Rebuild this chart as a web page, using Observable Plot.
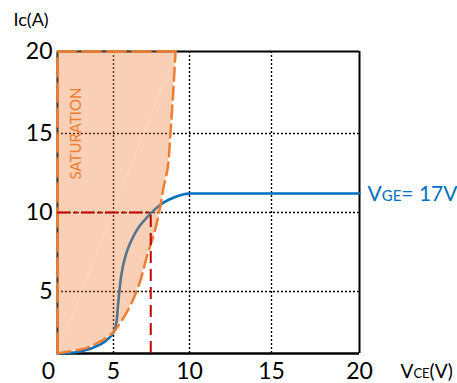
<!DOCTYPE html>
<html><head><meta charset="utf-8">
<script src="https://cdn.jsdelivr.net/npm/d3@7"></script>
<script src="https://cdn.jsdelivr.net/npm/@observablehq/plot@0.6"></script>
<style>body{margin:0;background:#fff;} svg{display:block;}</style>
</head><body><div id="chart"></div>
<script>
// ---- data ----
const xTicks = [0, 5, 10, 15, 20];
const yTicks = [5, 10, 15, 20];
const gridValues = [5, 10, 15];
// output characteristic (VGE = 17V)
const curveVce = [0, 2.05, 3.84, 4.6, 5.02, 5.2, 5.28, 5.38, 5.51, 5.68, 5.9, 6.23, 6.66, 7.22, 7.76, 8.31, 8.97, 9.63, 10.06, 11, 20];
const curveIc  = [0, 0.16, 0.74, 1.25, 1.75, 2.57, 3.66, 4.94, 6.01, 6.85, 7.59, 8.34, 9.07, 9.70, 10.23, 10.64, 10.95, 11.16, 11.2, 11.2, 11.2];
// saturation region right boundary
const satIc  = [0, 0.33, 0.98, 1.75, 2.3, 3.61, 5.38, 7.28, 8.99, 10.43, 11.68, 12.61, 15.09, 17.58, 20];
const satVce = [0, 2.05, 3.84, 5.02, 5.35, 6.0, 6.66, 7.22, 7.76, 8.09, 8.31, 8.53, 8.75, 8.93, 9.08];
// operating point
const opVce = 7.45, opIc = 10;
const xTitle = ["V", "CE", "(V)"];
const yTitle = "Ic(A)";
const seriesLabel = ["V", "GE", "= 17V"];
const regionLabel = "SATURATION";

const curve = curveVce.map((v, i) => ({vce: v, ic: curveIc[i]}));
const sat = satIc.map((c, i) => ({ic: c, vce: satVce[i]}));
const satTop = satVce[satVce.length - 1];
const satEdge = [{vce: satTop, ic: 20}, {vce: 0, ic: 20}, {vce: 0, ic: 0}];
const seam = [{vce: 0, ic: 0}, {vce: satTop, ic: 20}];

const orange = "#ed7d31", blue = "#0070c0", red = "#c00000";
const font = "Lato, 'Open Sans', sans-serif";

// the drawing's grid is not evenly spaced: piecewise position mapping
const xPiece = d3.scaleLinear().domain(xTicks).range([57, 113, 189, 271, 359]);
const yPiece = d3.scaleLinear().domain([0, 5, 10, 15, 20]).range([353, 291, 212, 133, 51]);

const svg = Plot.plot({
  width: 457, height: 383,
  margin: 0,
  style: {fontFamily: font, background: "#fff", overflow: "visible"},
  x: {transform: v => xPiece(v), domain: [0, 457], range: [0, 457], axis: null},
  y: {transform: v => yPiece(v), domain: [0, 383], range: [0, 383], axis: null},
  marks: [
    Plot.ruleX(gridValues, {y1: 0, y2: 20, stroke: "#000", strokeWidth: 1.4, strokeDasharray: "2 2"}),
    Plot.ruleY(gridValues, {x1: 0, x2: 20, stroke: "#000", strokeWidth: 1.4, strokeDasharray: "2 2"}),
    Plot.ruleX([0, 20], {y1: 0, y2: 20, stroke: "#000", strokeWidth: 2}),
    Plot.ruleY([20], {x1: 0, x2: 20, stroke: "#000", strokeWidth: 2}),
    Plot.ruleY([0], {x1: 0, x2: 20, stroke: "#000", strokeWidth: 2.5}),
    Plot.line(curve, {x: "vce", y: "ic", stroke: blue, strokeWidth: 2.6, curve: "catmull-rom"}),
    Plot.areaX(sat, {y: "ic", x1: 0, x2: "vce", fill: orange, fillOpacity: 0.36, curve: "monotone-y"}),
    Plot.line(seam, {x: "vce", y: "ic", stroke: "#fff", strokeOpacity: 0.12, strokeWidth: 1}),
    Plot.line(sat, {x: "vce", y: "ic", stroke: orange, strokeWidth: 2.5, strokeDasharray: "13 6", curve: "monotone-y"}),
    Plot.line(satEdge, {x: "vce", y: "ic", stroke: orange, strokeWidth: 2.5, strokeDasharray: "18 7"}),
    Plot.ruleY([opIc], {x1: 0, x2: opVce, stroke: red, strokeWidth: 2, strokeDasharray: "13 4 3 4"}),
    Plot.ruleX([opVce], {y1: 0, y2: opIc, stroke: red, strokeWidth: 2, strokeDasharray: "12 6"}),
    // tick labels
    Plot.text(xTicks.slice(0, 1), {x: d => d, y: 0, text: d => String(d), fontSize: 23, fill: "#000", dx: -9, dy: 18.5}),
    Plot.text(xTicks.slice(1), {x: d => d, y: 0, text: d => String(d), fontSize: 23, fill: "#000", dy: 18.5}),
    Plot.text(yTicks, {x: 0, y: d => d, text: d => String(d), fontSize: 23, fill: "#000", textAnchor: "end", dx: -5, dy: 0}),
    // axis titles
    Plot.text([yTitle], {x: 0, y: 20, text: d => d, fontSize: 18, fill: "#000", textAnchor: "start", dx: -44, dy: -31}),
    Plot.text([xTitle.join("")], {x: 20, y: 0, text: d => d, fontSize: 19, fill: "#000", textAnchor: "start", dx: 41, dy: 18}),
    Plot.text([seriesLabel.join("")], {x: 20, y: curveIc[curveIc.length - 1], text: d => d, fontSize: 21, fill: blue, textAnchor: "start", dx: 8, dy: 1}),
    Plot.text([regionLabel], {x: 1.7, y: 15, text: d => d, fontSize: 15, fill: orange, rotate: -90, textAnchor: "middle"})
  ]
});

// sub-script styled labels (smaller letters, same baseline)
d3.select(svg).selectAll("text").each(function() {
  const t = this.textContent;
  let parts = null, small = 0;
  if (t === seriesLabel.join("")) { parts = seriesLabel; small = 15; }
  if (t === xTitle.join("")) { parts = xTitle; small = 13; }
  if (parts) {
    const s = d3.select(this);
    s.text(null);
    parts.forEach((p, i) => {
      const ts = s.append("tspan").text(p);
      if (i === 1) ts.attr("font-size", small);
    });
  }
});

document.getElementById("chart").appendChild(svg);
</script>
</body></html>
